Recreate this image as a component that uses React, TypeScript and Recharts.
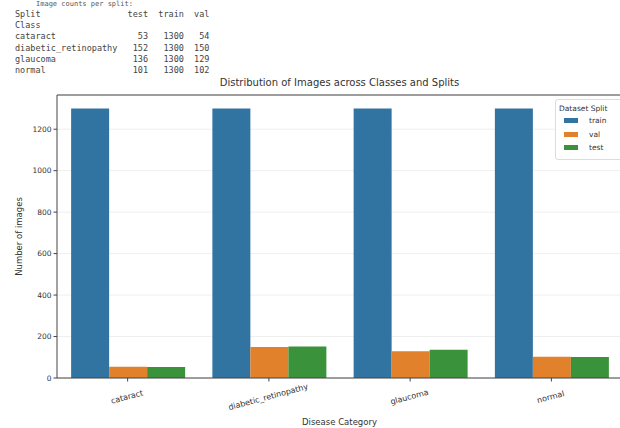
import React from 'react';
import {
  BarChart,
  Bar,
  XAxis,
  YAxis,
  CartesianGrid,
  ReferenceLine,
} from 'recharts';

const classes = ['cataract', 'diabetic_retinopathy', 'glaucoma', 'normal'];
const train = [1300, 1300, 1300, 1300];
const val = [54, 150, 129, 102];
const test = [53, 152, 136, 101];
const yTicks = [0, 200, 400, 600, 800, 1000, 1200];

// series order as in the legend: train, val, test
const series = [
  { key: 'train', color: '#3274a1' },
  { key: 'val', color: '#e1812c' },
  { key: 'test', color: '#3a923a' },
];

const data = classes.map((name, i) => ({
  name,
  train: train[i],
  val: val[i],
  test: test[i],
}));

const tableText = [
  'Split                 test  train  val',
  'Class                                 ',
  'cataract                53   1300   54',
  'diabetic_retinopathy   152   1300  150',
  'glaucoma               136   1300  129',
  'normal                 101   1300  102',
];

const font = '"DejaVu Sans", sans-serif';
const mono = '"DejaVu Sans Mono", monospace';

const XTick = ({ x, y, payload }: any) => (
  <text
    x={0}
    y={0}
    transform={`translate(${x}, ${y + 16}) rotate(-15)`}
    textAnchor="middle"
    fontSize={8}
    fontFamily={font}
    fill="#333">
    {payload.value}
  </text>
);

const YTitle = ({ viewBox }: any) => {
  const cx = viewBox.x + 22;
  const cy = viewBox.y + viewBox.height / 2;
  return (
    <text
      x={cx}
      y={cy}
      transform={`rotate(-90 ${cx} ${cy})`}
      textAnchor="middle"
      fontSize={8.5}
      fontFamily={font}
      fill="#333">
      Number of images
    </text>
  );
};

const XTitle = ({ viewBox }: any) => (
  <text
    x={viewBox.x + viewBox.width / 2}
    y={viewBox.y + 47}
    textAnchor="middle"
    fontSize={8.5}
    fontFamily={font}
    fill="#333">
    Disease Category
  </text>
);

const LegendBox = () => (
  <div
    style={{
      position: 'absolute',
      left: 555,
      top: 99,
      width: 70,
      border: '1px solid #dcdcdc',
      borderRadius: 3,
      background: 'rgba(255,255,255,0.85)',
      padding: '4px 0 4px 3px',
      fontFamily: font,
      fontSize: 7.5,
      color: '#333',
      boxSizing: 'border-box',
    }}>
    <div style={{ marginBottom: 1 }}>Dataset Split</div>
    {series.map((s) => (
      <div key={s.key} style={{ display: 'flex', alignItems: 'center', height: 13.5 }}>
        <span
          style={{
            display: 'inline-block',
            width: 14,
            height: 5,
            background: s.color,
            marginLeft: 5,
            marginRight: 11,
          }}
        />
        {s.key}
      </div>
    ))}
  </div>
);

const App = () => {
  return (
    <div
      style={{
        position: 'absolute',
        left: 0,
        top: 0,
        width: 620,
        height: 428,
        overflow: 'hidden',
        background: '#fff',
      }}>
      <div
        style={{
          position: 'absolute',
          left: 36,
          top: 0,
          fontFamily: mono,
          fontSize: 7,
          lineHeight: '8px',
          color: '#555',
          whiteSpace: 'pre',
        }}>
        Image counts per split:
      </div>
      <pre
        style={{
          position: 'absolute',
          left: 15,
          top: 9,
          margin: 0,
          fontFamily: mono,
          fontSize: 8.5,
          lineHeight: '11.2px',
          color: '#444',
        }}>
        {tableText.join('\n')}
      </pre>
      <div
        style={{
          position: 'absolute',
          left: 57,
          width: 565,
          top: 77,
          textAlign: 'center',
          fontFamily: font,
          fontSize: 10,
          color: '#333',
        }}>
        Distribution of Images across Classes and Splits
      </div>
      <BarChart
        width={622}
        height={428}
        data={data}
        margin={{ top: 95, right: 0, left: 0, bottom: 0 }}
        barCategoryGap="10%"
        barGap={0}>
        <CartesianGrid vertical={false} stroke="#efefef" />
        <ReferenceLine y={1365} stroke="#444" strokeWidth={1} />
        <XAxis
          dataKey="name"
          height={50}
          stroke="#444"
          tickSize={3.5}
          tick={<XTick />}
          interval={0}
          label={<XTitle />}
        />
        <YAxis
          width={57}
          domain={[0, 1365]}
          ticks={yTicks}
          stroke="#444"
          tickSize={3.5}
          tick={{ fontSize: 7.5, fontFamily: font, fill: '#333' }}
          label={<YTitle />}
        />
        {series.map((s) => (
          <Bar key={s.key} dataKey={s.key} fill={s.color} isAnimationActive={false} />
        ))}
      </BarChart>
      <LegendBox />
    </div>
  );
};

export default App;
